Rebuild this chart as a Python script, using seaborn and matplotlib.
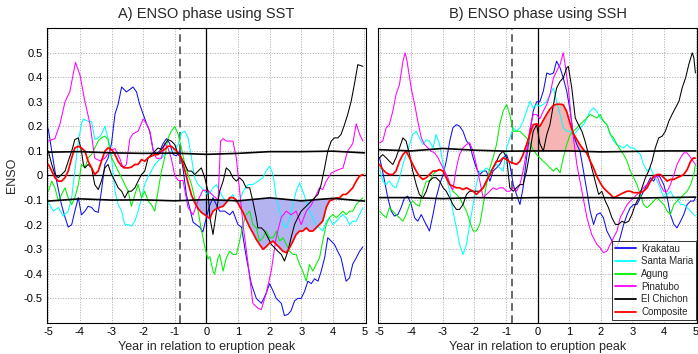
import numpy as np
import pandas as pd
import matplotlib
matplotlib.use("Agg")
import matplotlib.pyplot as plt
import seaborn as sns
from matplotlib.lines import Line2D

# ---------------- Panel A (SST) ----------------
A_krakatau_x = [-5.00,-4.89,-4.74,-4.58,-4.47,-4.37,-4.26,-4.16,-4.05,-3.95,-3.84,-3.74,-3.63,-3.53,-3.42,-3.32,-3.21,-3.11,-3.00,-2.89,-2.79,-2.68,-2.53,-2.42,-2.32,-2.21,-2.11,-2.00,-1.89,-1.79,-1.68,-1.58,-1.47,-1.37,-1.26,-1.16,-1.05,-0.95,-0.84,-0.74,-0.63,-0.53,-0.42,-0.32,-0.21,-0.11,0.00,0.11,0.21,0.32,0.42,0.58,0.74,0.84,1.00,1.11,1.26,1.42,1.58,1.74,1.89,2.00,2.11,2.21,2.37,2.47,2.58,2.68,2.79,2.89,3.00,3.11,3.21,3.32,3.42,3.53,3.63,3.74,3.84,3.95,4.05,4.16,4.26,4.42,4.53,4.63,4.74,4.84,4.95]
A_krakatau_y = [0.19,0.10,-0.02,-0.12,-0.17,-0.21,-0.20,-0.145,-0.09,-0.16,-0.145,-0.125,-0.13,-0.145,-0.15,-0.064,0.045,0.07,0.13,0.25,0.29,0.36,0.34,0.35,0.36,0.34,0.29,0.25,0.21,0.18,0.10,0.09,0.10,0.13,0.15,0.13,0.085,0.08,0.10,0.03,-0.08,-0.13,-0.19,-0.20,-0.21,-0.23,-0.17,-0.12,-0.09,-0.12,-0.145,-0.145,-0.16,-0.145,-0.20,-0.21,-0.33,-0.44,-0.50,-0.52,-0.48,-0.44,-0.47,-0.50,-0.52,-0.57,-0.565,-0.55,-0.51,-0.50,-0.50,-0.47,-0.43,-0.44,-0.42,-0.43,-0.39,-0.335,-0.253,-0.267,-0.28,-0.31,-0.335,-0.43,-0.416,-0.36,-0.335,-0.31,-0.29]

A_santamaria_x = [-5.00,-4.84,-4.68,-4.53,-4.37,-4.26,-4.16,-4.05,-3.95,-3.89,-3.74,-3.63,-3.53,-3.42,-3.32,-3.21,-3.11,-3.00,-2.89,-2.79,-2.68,-2.58,-2.47,-2.37,-2.26,-2.16,-2.05,-1.95,-1.84,-1.74,-1.63,-1.53,-1.42,-1.32,-1.21,-1.11,-1.00,-0.89,-0.79,-0.68,-0.58,-0.47,-0.37,-0.26,-0.16,-0.05,0.05,0.11,0.21,0.32,0.42,0.53,0.63,0.74,0.84,0.95,1.05,1.16,1.32,1.47,1.63,1.79,1.89,2.00,2.11,2.21,2.32,2.42,2.53,2.63,2.74,2.84,2.95,3.05,3.16,3.26,3.37,3.47,3.58,3.68,3.79,3.89,4.00,4.11,4.21,4.32,4.42,4.53,4.63,4.74,4.84,4.95]
A_santamaria_y = [-0.11,-0.145,-0.13,-0.165,-0.145,-0.09,0.018,0.14,0.21,0.23,0.22,0.22,0.146,0.153,0.167,0.20,0.153,0.072,-0.064,-0.118,-0.145,-0.20,-0.20,-0.206,-0.186,-0.145,-0.091,-0.037,-0.003,0.018,0.045,0.058,0.072,0.085,0.09,0.099,0.106,0.126,0.173,0.18,0.153,0.072,-0.009,-0.037,-0.05,-0.064,-0.08,-0.07,-0.05,-0.037,-0.064,-0.091,-0.104,-0.098,-0.077,-0.111,-0.104,-0.064,-0.037,-0.037,-0.023,-0.009,0.018,0.038,0.004,-0.091,-0.145,-0.20,-0.213,-0.172,-0.118,-0.064,-0.03,-0.064,-0.104,-0.145,-0.172,-0.20,-0.213,-0.226,-0.186,-0.172,-0.20,-0.186,-0.172,-0.159,-0.172,-0.20,-0.186,-0.186,-0.159,-0.131]

A_agung_x = [-5.00,-4.89,-4.79,-4.68,-4.58,-4.47,-4.37,-4.26,-4.16,-4.05,-3.95,-3.84,-3.74,-3.63,-3.53,-3.42,-3.32,-3.21,-3.11,-3.00,-2.89,-2.79,-2.68,-2.58,-2.47,-2.37,-2.26,-2.16,-2.05,-1.95,-1.84,-1.74,-1.63,-1.53,-1.42,-1.32,-1.21,-1.11,-1.00,-0.89,-0.79,-0.68,-0.58,-0.47,-0.37,-0.26,-0.16,-0.05,0.05,0.11,0.21,0.26,0.37,0.42,0.53,0.63,0.74,0.84,0.95,1.05,1.16,1.26,1.37,1.47,1.58,1.68,1.79,1.89,2.00,2.11,2.21,2.32,2.42,2.53,2.63,2.74,2.84,2.95,3.05,3.16,3.26,3.37,3.47,3.58,3.68,3.79,3.89,4.00,4.11,4.21,4.32,4.42,4.53,4.63,4.74,4.84,4.95]
A_agung_y = [-0.064,-0.023,-0.05,-0.104,-0.077,-0.05,-0.091,-0.118,-0.091,-0.037,0.045,0.031,0.072,0.085,0.112,0.14,0.153,0.16,0.146,0.072,0.045,0.018,-0.009,-0.037,-0.064,-0.125,-0.077,-0.037,-0.091,-0.064,-0.104,-0.118,-0.145,-0.064,0.018,0.072,0.153,0.18,0.20,0.167,0.112,0.045,0.004,-0.037,-0.091,-0.145,-0.22,-0.29,-0.34,-0.33,-0.389,-0.402,-0.335,-0.321,-0.389,-0.335,-0.308,-0.321,-0.321,-0.267,-0.199,-0.159,-0.145,-0.199,-0.213,-0.267,-0.253,-0.226,-0.253,-0.253,-0.226,-0.267,-0.253,-0.28,-0.308,-0.321,-0.321,-0.362,-0.389,-0.43,-0.362,-0.389,-0.362,-0.335,-0.267,-0.199,-0.172,-0.159,-0.172,-0.159,-0.145,-0.159,-0.145,-0.145,-0.118,-0.104,-0.091]

A_pinatubo_x = [-5.00,-4.79,-4.63,-4.47,-4.32,-4.14,-4.00,-3.84,-3.68,-3.53,-3.37,-3.21,-3.05,-2.89,-2.74,-2.63,-2.53,-2.42,-2.32,-2.16,-2.00,-1.89,-1.79,-1.68,-1.58,-1.42,-1.32,-1.21,-1.11,-1.00,-0.89,-0.74,-0.58,-0.42,-0.26,-0.11,0.05,0.20,0.37,0.45,0.53,0.63,0.84,0.95,1.05,1.16,1.32,1.47,1.63,1.74,1.89,2.05,2.21,2.37,2.53,2.68,2.84,3.00,3.16,3.32,3.47,3.58,3.68,3.79,3.95,4.11,4.32,4.47,4.63,4.74,4.84,4.95]
A_pinatubo_y = [0.14,0.15,0.21,0.30,0.34,0.46,0.41,0.30,0.21,0.07,0.06,0.07,0.10,0.11,0.07,0.03,0.045,0.15,0.17,0.18,0.23,0.21,0.18,0.10,0.07,0.07,0.13,0.11,0.07,0.00,-0.02,-0.02,-0.13,-0.16,-0.10,-0.06,-0.06,-0.08,-0.10,0.14,0.15,0.14,0.14,0.07,-0.06,-0.20,-0.36,-0.52,-0.54,-0.545,-0.48,-0.39,-0.25,-0.17,-0.145,-0.16,-0.145,-0.20,-0.145,-0.12,-0.08,-0.05,-0.057,-0.023,0.01,0.02,0.03,0.10,0.13,0.21,0.17,0.14]

A_elchichon_x = [-5.00,-4.89,-4.79,-4.68,-4.58,-4.47,-4.37,-4.26,-4.16,-4.05,-3.95,-3.89,-3.84,-3.74,-3.63,-3.53,-3.42,-3.32,-3.21,-3.11,-3.00,-2.89,-2.79,-2.68,-2.58,-2.47,-2.37,-2.26,-2.16,-2.05,-1.95,-1.84,-1.74,-1.63,-1.53,-1.42,-1.32,-1.21,-1.11,-1.00,-0.89,-0.79,-0.68,-0.58,-0.47,-0.37,-0.26,-0.16,-0.05,0.05,0.11,0.21,0.32,0.42,0.53,0.63,0.74,0.84,0.95,1.05,1.16,1.26,1.37,1.47,1.58,1.63,1.74,1.84,1.95,2.05,2.16,2.26,2.37,2.47,2.58,2.68,2.79,2.89,3.00,3.11,3.21,3.32,3.42,3.53,3.63,3.74,3.84,3.95,4.05,4.16,4.26,4.37,4.47,4.58,4.68,4.79,4.95]
A_elchichon_y = [0.099,0.045,0.004,-0.009,0.004,0.018,0.058,0.099,0.146,0.153,0.099,0.045,0.031,0.045,0.031,-0.037,-0.057,-0.023,0.031,0.045,0.004,-0.023,-0.05,-0.064,-0.091,-0.064,-0.064,-0.05,-0.023,0.004,0.018,0.072,0.085,0.099,0.112,0.106,0.126,0.146,0.14,0.126,0.085,0.072,0.045,0.018,0.018,0.004,0.018,0.031,-0.009,-0.064,-0.17,-0.24,-0.145,-0.064,-0.023,0.031,0.018,-0.009,-0.023,-0.009,-0.023,-0.05,-0.05,-0.104,-0.172,-0.213,-0.213,-0.226,-0.253,-0.28,-0.294,-0.308,-0.321,-0.348,-0.308,-0.253,-0.199,-0.172,-0.145,-0.131,-0.118,-0.104,-0.091,-0.077,-0.037,0.031,0.099,0.14,0.153,0.153,0.167,0.207,0.248,0.302,0.37,0.451,0.444]

A_composite_x = [-5.00,-4.89,-4.79,-4.68,-4.58,-4.47,-4.37,-4.26,-4.16,-4.05,-3.95,-3.84,-3.74,-3.63,-3.53,-3.42,-3.32,-3.21,-3.11,-3.00,-2.89,-2.79,-2.68,-2.58,-2.47,-2.37,-2.26,-2.16,-2.05,-1.95,-1.84,-1.74,-1.63,-1.53,-1.42,-1.32,-1.21,-1.11,-1.00,-0.89,-0.79,-0.68,-0.58,-0.47,-0.37,-0.26,-0.16,-0.05,0.05,0.11,0.21,0.32,0.42,0.53,0.63,0.74,0.84,0.95,1.05,1.16,1.26,1.37,1.47,1.58,1.68,1.79,1.89,2.00,2.11,2.21,2.32,2.42,2.53,2.63,2.74,2.84,2.95,3.05,3.16,3.26,3.37,3.47,3.58,3.68,3.79,3.89,4.00,4.11,4.21,4.32,4.42,4.53,4.63,4.74,4.84,4.95]
A_composite_y = [0.045,0.018,-0.009,-0.023,-0.023,-0.009,0.018,0.072,0.112,0.119,0.112,0.099,0.058,0.031,0.004,0.018,0.058,0.099,0.112,0.106,0.085,0.058,0.038,0.031,0.031,0.034,0.045,0.045,0.065,0.058,0.072,0.079,0.085,0.085,0.099,0.106,0.119,0.119,0.106,0.092,0.07,0.02,-0.03,-0.08,-0.11,-0.135,-0.15,-0.16,-0.17,-0.175,-0.145,-0.135,-0.13,-0.125,-0.11,-0.09,-0.09,-0.10,-0.125,-0.15,-0.18,-0.21,-0.233,-0.26,-0.28,-0.30,-0.29,-0.275,-0.267,-0.28,-0.294,-0.308,-0.314,-0.294,-0.267,-0.24,-0.226,-0.226,-0.213,-0.226,-0.226,-0.213,-0.199,-0.186,-0.131,-0.104,-0.098,-0.091,-0.091,-0.077,-0.077,-0.064,-0.05,-0.023,-0.003,0.004]

A_thr_x = [-5, -4, -3, -2, -1, 0, 1, 2, 3, 4, 5]
A_thr_hi = [0.095, 0.097, 0.092, 0.090, 0.091, 0.086, 0.090, 0.097, 0.097, 0.099, 0.092]
A_thr_lo = [-0.104, -0.095, -0.100, -0.099, -0.103, -0.098, -0.103, -0.091, -0.103, -0.093, -0.104]

# ---------------- Panel B (SSH) ----------------
B_krakatau_x = [-5.00,-4.95,-4.84,-4.74,-4.63,-4.53,-4.42,-4.32,-4.21,-4.11,-4.00,-3.89,-3.79,-3.68,-3.58,-3.47,-3.42,-3.31,-3.21,-3.10,-2.99,-2.89,-2.78,-2.68,-2.57,-2.47,-2.36,-2.25,-2.15,-2.04,-1.94,-1.83,-1.72,-1.62,-1.51,-1.41,-1.30,-1.20,-1.09,-0.98,-0.88,-0.77,-0.67,-0.56,-0.46,-0.35,-0.24,-0.14,-0.03,0.07,0.18,0.29,0.39,0.50,0.60,0.71,0.81,0.92,1.03,1.13,1.24,1.34,1.45,1.56,1.66,1.77,1.87,1.98,2.08,2.19,2.30,2.40,2.51,2.61,2.72,2.83,2.93,3.04,3.14,3.25,3.35,3.46,3.57,3.67,3.78,3.88,3.99,4.10,4.20,4.31,4.41,4.52,4.62,4.73,4.84,4.94,4.99]
B_krakatau_y = [0.072,0.045,-0.023,-0.091,-0.145,-0.165,-0.159,-0.131,-0.091,-0.084,-0.118,-0.172,-0.186,-0.159,-0.186,-0.213,-0.226,-0.159,-0.091,-0.037,0.004,0.058,0.140,0.194,0.207,0.201,0.18,0.14,0.126,0.072,0.031,0.004,0.018,0.018,-0.023,0.018,0.031,0.045,0.072,0.085,0.045,-0.037,-0.077,-0.118,-0.05,0.072,0.18,0.262,0.30,0.30,0.343,0.417,0.411,0.417,0.465,0.438,0.397,0.343,0.262,0.167,0.126,0.099,0.018,-0.064,-0.145,-0.199,-0.159,-0.152,-0.172,-0.226,-0.253,-0.28,-0.294,-0.253,-0.199,-0.159,-0.131,-0.118,-0.118,-0.091,-0.064,-0.037,-0.009,-0.023,0.004,-0.009,-0.037,-0.091,-0.159,-0.199,-0.213,-0.186,-0.159,-0.118,-0.104,-0.104,-0.091]

B_santamaria_x = [-5.00,-4.90,-4.79,-4.69,-4.58,-4.48,-4.37,-4.26,-4.16,-4.05,-3.95,-3.84,-3.74,-3.63,-3.52,-3.42,-3.31,-3.21,-3.10,-2.99,-2.89,-2.78,-2.68,-2.57,-2.47,-2.36,-2.25,-2.15,-2.04,-1.94,-1.83,-1.72,-1.62,-1.51,-1.41,-1.30,-1.20,-1.09,-0.98,-0.88,-0.77,-0.67,-0.56,-0.46,-0.35,-0.24,-0.14,-0.03,0.07,0.18,0.29,0.39,0.50,0.60,0.71,0.81,0.92,1.03,1.13,1.24,1.34,1.45,1.56,1.66,1.77,1.87,1.98,2.08,2.19,2.30,2.40,2.51,2.61,2.72,2.83,2.93,3.04,3.14,3.25,3.35,3.46,3.57,3.67,3.78,3.88,3.99,4.10,4.20,4.31,4.41,4.52,4.62,4.73,4.84,4.94,4.99]
B_santamaria_y = [0.031,-0.023,-0.037,-0.023,-0.043,-0.05,-0.009,0.045,0.085,0.126,0.167,0.18,0.153,0.126,0.146,0.14,0.112,0.167,0.126,0.045,-0.009,-0.064,-0.145,-0.213,-0.28,-0.321,-0.28,-0.199,-0.118,-0.037,0.018,0.018,0.031,0.018,0.031,0.045,0.031,0.018,0.112,0.153,0.194,0.18,0.194,0.221,0.262,0.302,0.275,0.289,0.282,0.289,0.302,0.329,0.356,0.302,0.248,0.194,0.18,0.18,0.167,0.18,0.194,0.207,0.234,0.262,0.275,0.262,0.234,0.221,0.207,0.167,0.14,0.126,0.119,0.112,0.126,0.112,0.112,0.099,0.085,0.045,0.018,0.031,0.004,-0.023,-0.05,-0.091,-0.077,-0.064,-0.091,-0.091,-0.118,-0.118,-0.131,-0.145,-0.159,-0.165]

B_agung_x = [-5.00,-4.90,-4.79,-4.69,-4.58,-4.48,-4.37,-4.26,-4.16,-4.05,-3.95,-3.84,-3.74,-3.63,-3.52,-3.42,-3.31,-3.21,-3.10,-2.99,-2.89,-2.78,-2.68,-2.57,-2.47,-2.36,-2.25,-2.15,-2.04,-1.94,-1.83,-1.72,-1.62,-1.51,-1.41,-1.30,-1.20,-1.09,-0.98,-0.88,-0.77,-0.67,-0.56,-0.46,-0.35,-0.24,-0.14,-0.03,0.07,0.18,0.29,0.39,0.50,0.60,0.71,0.81,0.92,1.03,1.13,1.24,1.34,1.45,1.56,1.66,1.77,1.87,1.98,2.08,2.19,2.30,2.40,2.51,2.61,2.72,2.83,2.93,3.04,3.14,3.25,3.35,3.46,3.57,3.67,3.78,3.88,3.99,4.10,4.20,4.31,4.41,4.52,4.62,4.73,4.84,4.94,4.99]
B_agung_y = [-0.145,-0.159,-0.172,-0.131,-0.145,-0.159,-0.172,-0.186,-0.159,-0.118,-0.104,-0.118,-0.125,-0.064,-0.023,-0.023,0.004,0.018,0.024,0.018,-0.009,-0.037,-0.064,-0.077,-0.091,-0.118,-0.145,-0.186,-0.226,-0.226,-0.199,-0.118,-0.037,0.031,0.072,0.126,0.207,0.262,0.289,0.248,0.18,0.18,0.18,0.167,0.153,0.13,0.105,0.085,0.072,0.058,0.045,0.031,0.018,0.031,0.011,0.072,0.126,0.167,0.18,0.194,0.207,0.221,0.234,0.248,0.241,0.234,0.248,0.221,0.207,0.167,0.153,0.126,0.106,0.085,0.058,0.018,-0.009,-0.037,-0.077,-0.118,-0.131,-0.118,-0.104,-0.091,-0.104,-0.118,-0.145,-0.159,-0.118,-0.104,-0.091,-0.077,-0.064,-0.037,0.004,0.045]

B_pinatubo_x = [-5.00,-4.90,-4.79,-4.69,-4.58,-4.48,-4.37,-4.26,-4.19,-4.13,-4.00,-3.89,-3.79,-3.68,-3.58,-3.47,-3.37,-3.26,-3.15,-3.05,-2.94,-2.84,-2.73,-2.68,-2.57,-2.47,-2.36,-2.25,-2.15,-2.04,-1.94,-1.83,-1.72,-1.62,-1.51,-1.41,-1.30,-1.20,-1.09,-0.98,-0.88,-0.77,-0.67,-0.56,-0.46,-0.35,-0.24,-0.14,-0.03,0.07,0.18,0.29,0.39,0.50,0.60,0.71,0.81,0.87,0.97,1.08,1.24,1.40,1.56,1.71,1.87,1.98,2.08,2.19,2.30,2.40,2.51,2.61,2.72,2.83,2.93,3.04,3.14,3.25,3.35,3.46,3.57,3.67,3.78,3.88,3.99,4.10,4.20,4.31,4.41,4.52,4.62,4.73,4.84,4.99]
B_pinatubo_y = [0.133,0.14,0.194,0.207,0.262,0.329,0.37,0.465,0.499,0.465,0.356,0.289,0.221,0.153,0.126,0.112,0.099,0.092,0.072,0.045,0.018,-0.009,-0.05,-0.057,0.031,0.085,0.112,0.126,0.133,0.099,0.045,-0.023,-0.091,-0.077,-0.064,-0.05,-0.057,-0.05,-0.05,-0.064,-0.064,-0.05,-0.064,-0.037,0.018,0.099,0.194,0.248,0.248,0.23,0.262,0.289,0.329,0.397,0.424,0.451,0.499,0.451,0.356,0.207,0.045,-0.064,-0.172,-0.24,-0.28,-0.294,-0.314,-0.308,-0.28,-0.253,-0.226,-0.172,-0.145,-0.118,-0.104,-0.091,-0.077,-0.064,-0.05,-0.037,-0.023,-0.009,-0.003,-0.037,-0.064,-0.064,-0.037,0.004,0.045,0.072,0.092,0.092,0.072,0.045]

B_elchichon_x = [-5.00,-4.90,-4.79,-4.69,-4.58,-4.48,-4.37,-4.26,-4.16,-4.05,-3.95,-3.84,-3.74,-3.63,-3.52,-3.42,-3.31,-3.21,-3.10,-2.99,-2.89,-2.78,-2.68,-2.57,-2.47,-2.36,-2.25,-2.15,-2.04,-1.94,-1.83,-1.72,-1.62,-1.51,-1.41,-1.30,-1.20,-1.09,-0.98,-0.88,-0.77,-0.67,-0.56,-0.46,-0.35,-0.24,-0.14,-0.03,0.07,0.18,0.29,0.39,0.50,0.60,0.71,0.81,0.92,0.97,1.08,1.19,1.29,1.40,1.50,1.61,1.71,1.82,1.93,2.03,2.14,2.24,2.35,2.46,2.56,2.67,2.77,2.88,2.98,3.09,3.20,3.30,3.41,3.51,3.62,3.72,3.83,3.94,4.04,4.15,4.25,4.36,4.47,4.57,4.68,4.78,4.89,4.94,4.99]
B_elchichon_y = [0.072,0.085,0.072,0.058,0.045,0.072,0.112,0.153,0.14,0.085,0.018,-0.037,-0.077,-0.091,-0.064,-0.023,-0.009,-0.009,-0.023,-0.05,-0.064,-0.091,-0.118,-0.138,-0.138,-0.118,-0.077,-0.064,-0.064,-0.064,-0.064,-0.05,-0.023,0.004,0.031,0.058,0.085,0.099,0.072,-0.05,-0.064,-0.05,-0.037,-0.037,0.018,0.099,0.18,0.207,0.13,0.099,0.167,0.207,0.289,0.356,0.383,0.397,0.438,0.444,0.356,0.234,0.207,0.18,0.14,0.085,0.031,-0.023,-0.077,-0.064,-0.104,-0.131,-0.172,-0.199,-0.199,-0.186,-0.193,-0.186,-0.159,-0.118,-0.091,-0.05,-0.009,0.018,0.058,0.112,0.153,0.16,0.18,0.221,0.248,0.275,0.302,0.356,0.397,0.451,0.499,0.48,0.417]

B_composite_x = [-5.00,-4.90,-4.79,-4.69,-4.58,-4.48,-4.37,-4.26,-4.16,-4.05,-3.95,-3.84,-3.74,-3.63,-3.52,-3.42,-3.31,-3.21,-3.10,-2.99,-2.89,-2.78,-2.68,-2.57,-2.47,-2.36,-2.25,-2.15,-2.04,-1.94,-1.83,-1.72,-1.62,-1.51,-1.41,-1.30,-1.20,-1.09,-0.98,-0.88,-0.77,-0.67,-0.56,-0.46,-0.35,-0.24,-0.14,-0.03,0.07,0.18,0.29,0.39,0.50,0.60,0.71,0.81,0.92,1.03,1.13,1.24,1.34,1.45,1.56,1.66,1.77,1.87,1.98,2.08,2.19,2.30,2.40,2.51,2.61,2.72,2.83,2.93,3.04,3.14,3.25,3.35,3.46,3.57,3.67,3.78,3.88,3.99,4.10,4.20,4.31,4.41,4.52,4.62,4.73,4.84,4.94,4.99]
B_composite_y = [0.045,0.024,0.011,0.004,0.004,0.018,0.058,0.085,0.099,0.072,0.045,0.018,-0.003,-0.016,-0.009,0.004,0.018,0.018,0.024,0.018,-0.009,-0.037,-0.043,-0.05,-0.05,-0.057,-0.05,-0.057,-0.064,-0.077,-0.064,-0.05,-0.023,0.004,0.031,0.058,0.058,0.072,0.065,0.055,0.05,0.045,0.058,0.085,0.126,0.17,0.207,0.21,0.20,0.225,0.25,0.27,0.285,0.29,0.29,0.288,0.26,0.21,0.17,0.146,0.125,0.105,0.09,0.06,0.03,-0.003,-0.03,-0.05,-0.064,-0.077,-0.091,-0.084,-0.077,-0.07,-0.064,-0.064,-0.07,-0.07,-0.07,-0.064,-0.05,-0.023,-0.003,0.004,0.004,-0.009,-0.023,-0.016,-0.016,-0.009,-0.003,0.004,0.024,0.058,0.072,0.07]

B_thr_x = [-5, -4, -3, -2, -1, 0, 1, 2, 3, 4, 5]
B_thr_hi = [0.105, 0.100, 0.110, 0.103, 0.099, 0.100, 0.100, 0.096, 0.098, 0.100, 0.100]
B_thr_lo = [-0.090, -0.090, -0.094, -0.090, -0.092, -0.090, -0.090, -0.090, -0.092, -0.090, -0.088]

SERIES = ["Krakatau", "Santa Maria", "Agung", "Pinatubo", "El Chichon"]
COLORS = {"Krakatau": "#1010f0", "Santa Maria": "#00ffff", "Agung": "#00ee00",
          "Pinatubo": "#ff00ff", "El Chichon": "#000000", "Composite": "#ff0000"}
TITLES = ["A) ENSO phase using SST", "B) ENSO phase using SSH"]
XTICKS = [-5, -4, -3, -2, -1, 0, 1, 2, 3, 4, 5]
YTICKS = [-0.5, -0.4, -0.3, -0.2, -0.1, 0, 0.1, 0.2, 0.3, 0.4, 0.5]
YTICKLABELS = ["-0.5", "-0.4", "-0.3", "-0.2", "-0.1", "0", "0.1", "0.2", "0.3", "0.4", "0.5"]
DASHED_X = -0.82

panels = {
    "A": dict(series={"Krakatau": (A_krakatau_x, A_krakatau_y), "Santa Maria": (A_santamaria_x, A_santamaria_y),
                      "Agung": (A_agung_x, A_agung_y), "Pinatubo": (A_pinatubo_x, A_pinatubo_y),
                      "El Chichon": (A_elchichon_x, A_elchichon_y)},
              comp=(A_composite_x, A_composite_y), thr=(A_thr_x, A_thr_hi, A_thr_lo)),
    "B": dict(series={"Krakatau": (B_krakatau_x, B_krakatau_y), "Santa Maria": (B_santamaria_x, B_santamaria_y),
                      "Agung": (B_agung_x, B_agung_y), "Pinatubo": (B_pinatubo_x, B_pinatubo_y),
                      "El Chichon": (B_elchichon_x, B_elchichon_y)},
              comp=(B_composite_x, B_composite_y), thr=(B_thr_x, B_thr_hi, B_thr_lo)),
}

sns.set_style("white")
plt.rcParams["font.family"] = ["Liberation Sans", "DejaVu Sans"]
plt.rcParams["axes.unicode_minus"] = False

fig = plt.figure(figsize=(6.98, 3.54), dpi=100)
ax_a = fig.add_axes([0.0669, 0.0876, 0.4575, 0.8333])
ax_b = fig.add_axes([0.5415, 0.0876, 0.4575, 0.8333])

for key, ax, title in [("A", ax_a, TITLES[0]), ("B", ax_b, TITLES[1])]:
    p = panels[key]
    ax.set_xlim(-5.05, 5.05)
    ax.set_ylim(-0.6, 0.6)
    ax.set_xticks(XTICKS)
    ax.set_yticks(YTICKS)
    ax.grid(True, linestyle=":", color="#a8a8a8", linewidth=0.7)
    ax.set_axisbelow(True)

    # significance fill
    cx = np.array(p["comp"][0]); cy = np.array(p["comp"][1])
    tx, thi, tlo = p["thr"]
    if key == "A":
        tl = np.interp(cx, tx, tlo)
        ax.fill_between(cx, cy, tl, where=cy < tl, interpolate=True,
                        color="#b3b3f2", linewidth=0, zorder=1)
    else:
        th = np.interp(cx, tx, thi)
        ax.fill_between(cx, cy, th, where=cy > th, interpolate=True,
                        color="#f5b5b5", linewidth=0, zorder=1)

    rows = []
    for name in SERIES:
        xs, ys = p["series"][name]
        rows.append(pd.DataFrame({"x": xs, "y": ys, "series": name}))
    df = pd.concat(rows, ignore_index=True)
    sns.lineplot(data=df, x="x", y="y", hue="series", hue_order=SERIES,
                 palette=COLORS, estimator=None, sort=False, linewidth=0.75,
                 legend=False, ax=ax, zorder=3)
    dfc = pd.DataFrame({"x": cx, "y": cy})
    sns.lineplot(data=dfc, x="x", y="y", color=COLORS["Composite"], linewidth=1.25,
                 estimator=None, sort=False, legend=False, ax=ax, zorder=4)
    dft = pd.DataFrame({"x": list(tx) * 2, "y": list(thi) + list(tlo),
                        "level": ["hi"] * len(tx) + ["lo"] * len(tx)})
    sns.lineplot(data=dft, x="x", y="y", units="level", estimator=None, sort=False,
                 color="black", linewidth=1.2, legend=False, ax=ax, zorder=5)

    ax.axhline(0, color="black", linewidth=0.9, zorder=2)
    ax.axvline(0, color="black", linewidth=0.9, zorder=2)
    ax.axvline(DASHED_X, color="#404040", linewidth=1.1, linestyle=(0, (5, 3)), zorder=2)

    for s in ax.spines.values():
        s.set_color("black"); s.set_linewidth(0.8)
    ax.tick_params(direction="in", length=3, width=0.6, labelsize=8, colors="black", pad=3)
    ax.set_title(title, fontsize=10.5, pad=7)
    ax.set_xlabel("Year in relation to eruption peak", fontsize=9, labelpad=3)
    ax.set_ylabel("")

ax_a.set_yticklabels(YTICKLABELS)
ax_b.set_yticklabels([])
ax_a.set_ylabel("ENSO", fontsize=9, labelpad=4)

handles = [Line2D([], [], color=COLORS[n], linewidth=1.3) for n in SERIES + ["Composite"]]
leg = ax_b.legend(handles, SERIES + ["Composite"], loc="lower right",
                  bbox_to_anchor=(0.997, 0.01), fontsize=7, frameon=True,
                  fancybox=False, handlelength=2.2, handletextpad=0.5,
                  borderpad=0.3, labelspacing=0.28, borderaxespad=0.0)
leg.get_frame().set_edgecolor("black")
leg.get_frame().set_linewidth(0.7)
leg.set_zorder(10)

fig.savefig("out.png", dpi=100)
